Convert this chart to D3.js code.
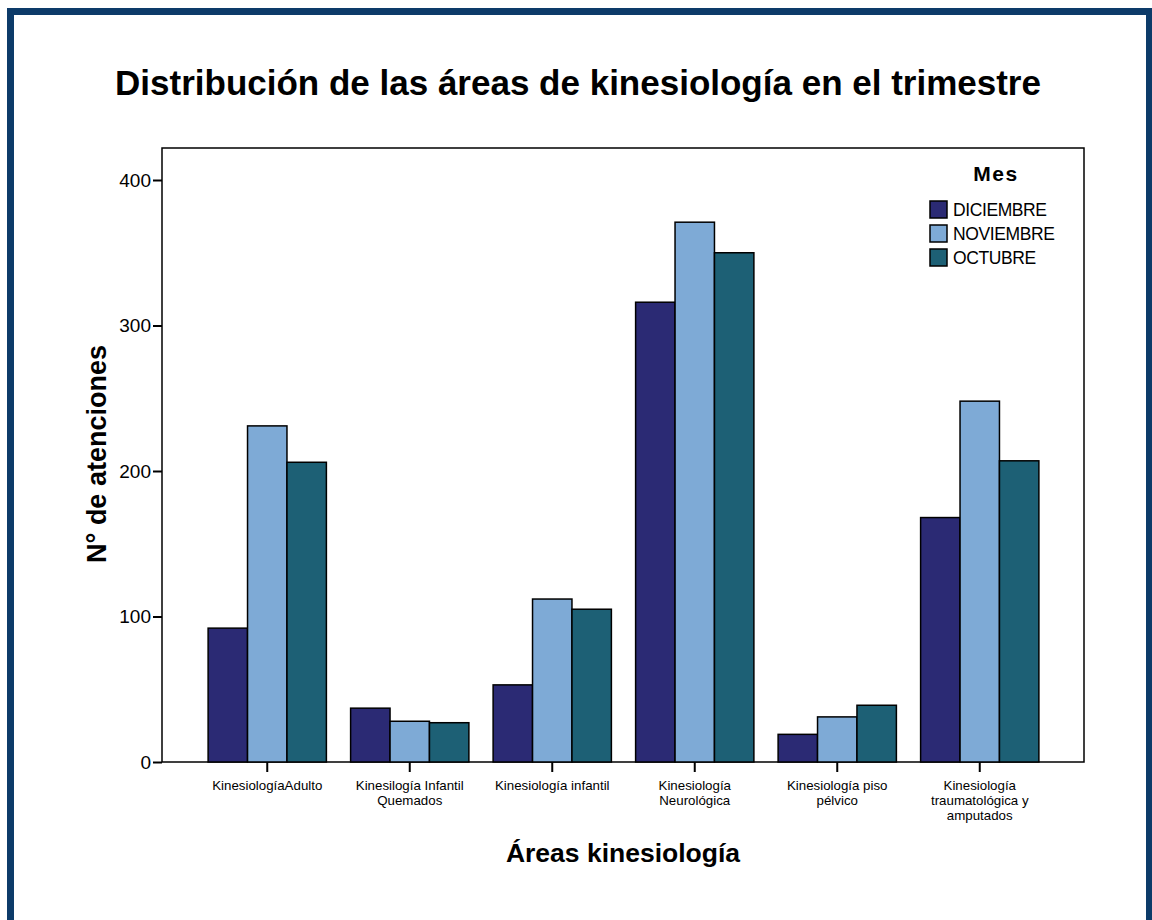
<!DOCTYPE html>
<html>
<head>
<meta charset="utf-8">
<script src="https://cdn.jsdelivr.net/npm/d3@7"></script>
<style>
  body { margin: 0; background: #fff; }
  text { font-family: "Liberation Sans", Arial, sans-serif; }
</style>
</head>
<body>
<div id="chart"></div>
<script>
const categories = [
  ['KinesiologíaAdulto'],
  ['Kinesilogía Infantil', 'Quemados'],
  ['Kinesiología infantil'],
  ['Kinesiología', 'Neurológica'],
  ['Kinesiología piso', 'pélvico'],
  ['Kinesiología', 'traumatológica y', 'amputados'],
]
const months = ['DICIEMBRE', 'NOVIEMBRE', 'OCTUBRE']
const diciembre = [92, 37, 53, 316, 19, 168]
const noviembre = [231, 28, 112, 371, 31, 248]
const octubre = [206, 27, 105, 350, 39, 207]
const yTicks = [0, 100, 200, 300, 400]
const colors = ['#2b2a74', '#7eaad6', '#1d6075']

const series = [diciembre, noviembre, octubre]

const width = 1152
const height = 920
const plot = { left: 162, right: 1084, top: 148, bottom: 762 }

const svg = d3.select('#chart').append('svg')
  .attr('width', width)
  .attr('height', height)

// outer frame
svg.append('rect')
  .attr('x', 10.5).attr('y', 11.5)
  .attr('width', 1139).attr('height', 940)
  .attr('fill', 'none')
  .attr('stroke', '#0d3b69')
  .attr('stroke-width', 7)

svg.append('text')
  .attr('x', 578).attr('y', 95)
  .attr('text-anchor', 'middle')
  .style('font-size', '35px')
  .style('font-weight', 'bold')
  .text('Distribución de las áreas de kinesiología en el trimestre')

const x0 = d3.scaleBand()
  .domain(d3.range(categories.length))
  .range([196, 1051])
  .paddingInner(0.17)
  .paddingOuter(0.085)

const x1 = d3.scaleBand()
  .domain(d3.range(months.length))
  .range([0, x0.bandwidth()])

const y = d3.scaleLinear().domain([0, 400]).range([plot.bottom, 180])

// plot frame
svg.append('rect')
  .attr('x', plot.left).attr('y', plot.top)
  .attr('width', plot.right - plot.left).attr('height', plot.bottom - plot.top)
  .attr('fill', 'none')
  .attr('stroke', '#000')
  .attr('stroke-width', 1.5)

const groups = svg.append('g').selectAll('g')
  .data(categories)
  .join('g')
  .attr('transform', (d, i) => `translate(${x0(i)},0)`)

groups.selectAll('rect')
  .data((d, i) => series.map((s, k) => ({ k, v: s[i] })))
  .join('rect')
  .attr('x', (d) => x1(d.k))
  .attr('y', (d) => y(d.v))
  .attr('width', x1.bandwidth())
  .attr('height', (d) => y(0) - y(d.v))
  .attr('fill', (d) => colors[d.k])
  .attr('stroke', '#000')
  .attr('stroke-width', 1.5)

// y axis
const yAxis = svg.append('g')
  .attr('transform', `translate(${plot.left},0)`)
  .call(d3.axisLeft(y).tickValues(yTicks).tickSize(9).tickPadding(2))
yAxis.select('.domain').remove()
yAxis.selectAll('line').attr('stroke-width', 2)
yAxis.selectAll('text')
  .style('font-size', '19px')
  .style('font-family', '"Liberation Sans", Arial, sans-serif')
  .attr('fill', '#000')

// x axis
const xAxis = svg.append('g')
  .attr('transform', `translate(0,${plot.bottom})`)
  .call(d3.axisBottom(x0).tickSize(10).tickFormat(''))
xAxis.select('.domain').remove()
xAxis.selectAll('line').attr('stroke-width', 2)

xAxis.selectAll('.tick').each(function (d) {
  const t = d3.select(this).append('text')
    .attr('fill', '#000')
    .attr('text-anchor', 'middle')
    .style('font-size', '13.3px')
    .style('font-family', '"Liberation Sans", Arial, sans-serif')
  categories[d].forEach((line, j) => {
    t.append('tspan')
      .attr('x', 0)
      .attr('y', 28 + j * 15)
      .text(line)
  })
})

svg.append('text')
  .attr('x', 623).attr('y', 862)
  .attr('text-anchor', 'middle')
  .style('font-size', '26.5px')
  .style('font-weight', 'bold')
  .text('Áreas kinesiología')

svg.append('text')
  .attr('transform', 'translate(106,454) rotate(-90)')
  .attr('text-anchor', 'middle')
  .style('font-size', '27px')
  .style('font-weight', 'bold')
  .text('N° de atenciones')

// legend
const legend = svg.append('g').attr('transform', 'translate(930,0)')
legend.append('text')
  .attr('x', 66).attr('y', 181)
  .attr('text-anchor', 'middle')
  .style('font-size', '21px')
  .style('font-weight', 'bold')
  .style('letter-spacing', '1.5px')
  .text('Mes')

const items = legend.selectAll('g.item')
  .data(months)
  .join('g')
  .attr('class', 'item')
  .attr('transform', (d, i) => `translate(0,${201 + i * 24})`)

items.append('rect')
  .attr('width', 17).attr('height', 17)
  .attr('fill', (d, i) => colors[i])
  .attr('stroke', '#000')
  .attr('stroke-width', 1.5)

items.append('text')
  .attr('x', 23).attr('y', 15)
  .style('font-size', '17.5px')
  .style('letter-spacing', '-0.4px')
  .text((d) => d)
</script>
</body>
</html>
